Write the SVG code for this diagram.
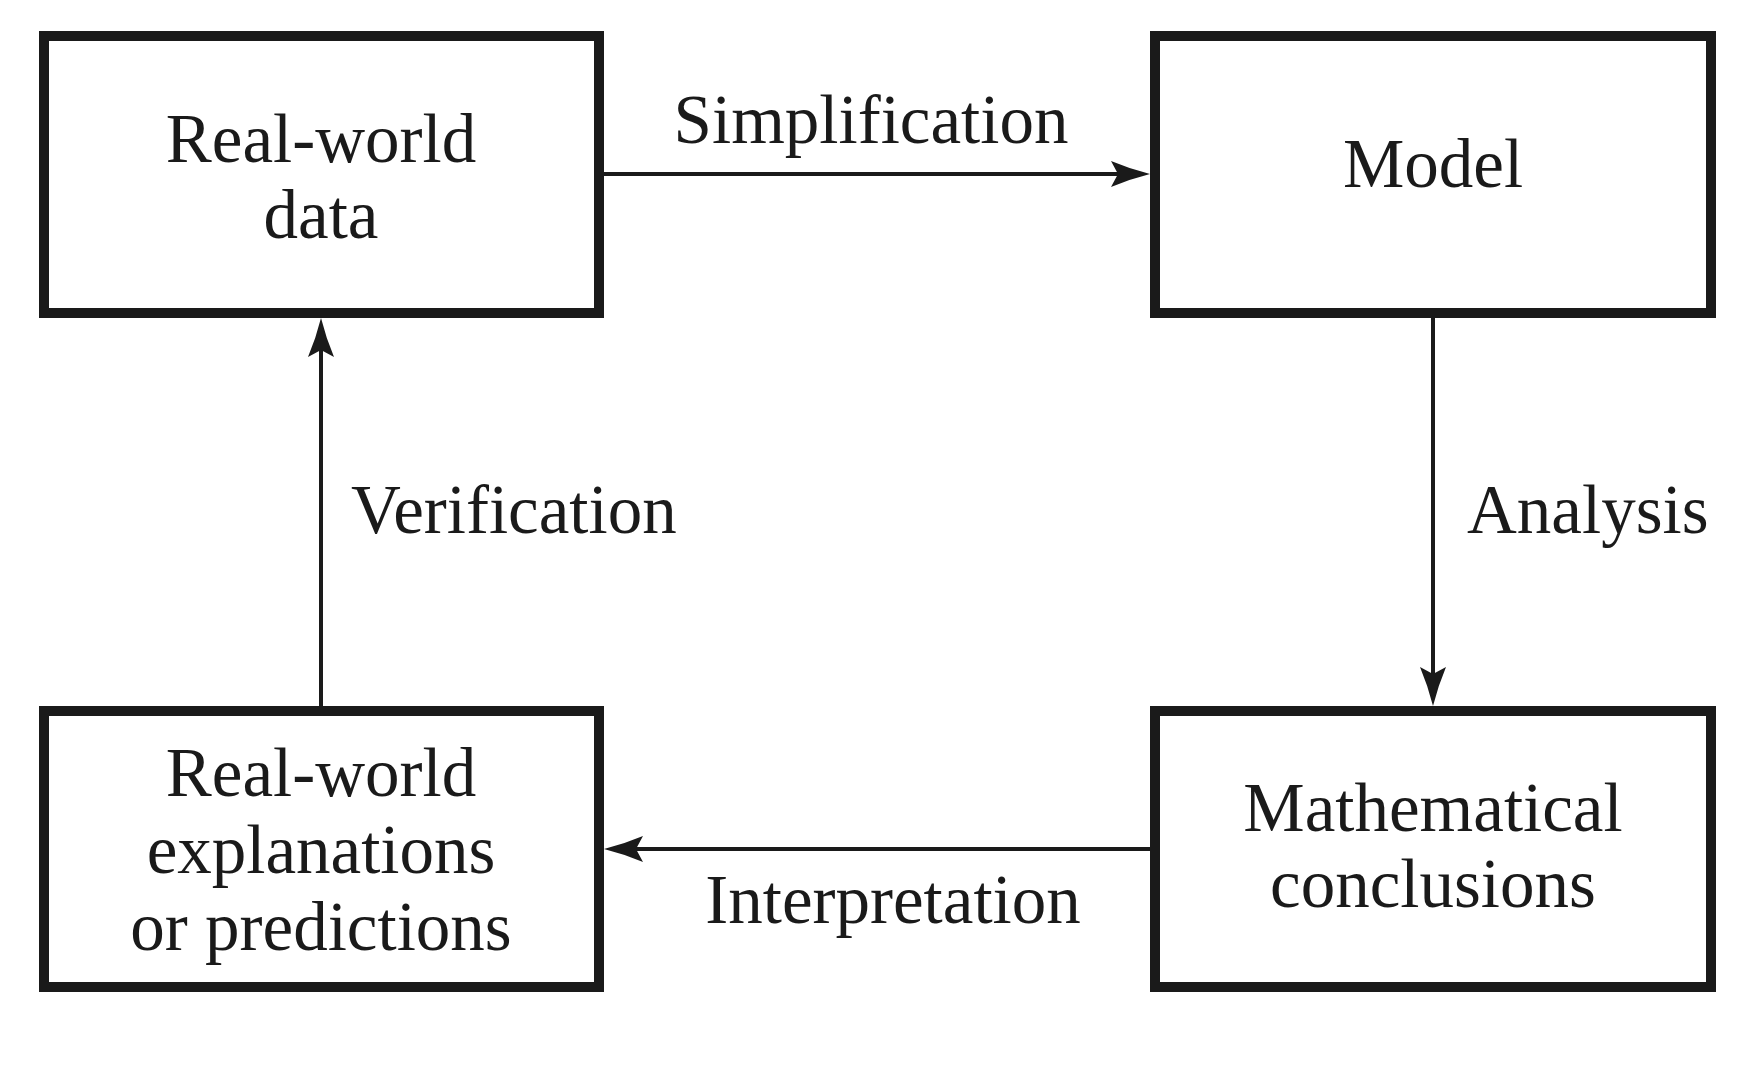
<svg xmlns="http://www.w3.org/2000/svg" width="1752" height="1075" viewBox="0 0 1752 1075">
<defs>
<style>
.box{fill:#fff;stroke:#1a1a1a;stroke-width:10}
.t{font-family:"Liberation Serif","Times New Roman",serif;font-size:69px;fill:#1a1a1a}
.c{text-anchor:middle}
.conn{fill:none;stroke:#1a1a1a;stroke-width:4}
</style>
<marker id="ah" markerUnits="userSpaceOnUse" viewBox="-40 -15 42 30" markerWidth="42" markerHeight="30" refX="-30" refY="0" orient="auto" overflow="visible">
<path d="M0,0 Q-20,-5 -39,-13 L-32,0 L-39,13 Q-20,5 0,0 Z" fill="#1a1a1a"/>
</marker>
</defs>
<rect width="1752" height="1075" fill="#fff"/>
<g id="connectors">
<path class="conn" d="M604,174 H1120" marker-end="url(#ah)"/>
<path class="conn" d="M1433,318 V676" marker-end="url(#ah)"/>
<path class="conn" d="M1150,849 H634" marker-end="url(#ah)"/>
<path class="conn" d="M321,706 V348" marker-end="url(#ah)"/>
<text class="t c" x="871" y="143">Simplification</text>
<text class="t" x="1467" y="533">Analysis</text>
<text class="t c" x="893" y="923">Interpretation</text>
<text class="t" x="351" y="533">Verification</text>
</g>
<g id="real-world-data">
<rect class="box" x="44" y="36" width="555" height="277"/>
<text class="t c" x="321" y="162">Real-world</text>
<text class="t c" x="321" y="238">data</text>
</g>
<g id="model">
<rect class="box" x="1155" y="36" width="556" height="277"/>
<text class="t c" x="1433" y="187">Model</text>
</g>
<g id="mathematical-conclusions">
<rect class="box" x="1155" y="711" width="556" height="276"/>
<text class="t c" x="1433" y="831">Mathematical</text>
<text class="t c" x="1433" y="907">conclusions</text>
</g>
<g id="real-world-explanations">
<rect class="box" x="44" y="711" width="555" height="276"/>
<text class="t c" x="321" y="796">Real-world</text>
<text class="t c" x="321" y="873">explanations</text>
<text class="t c" x="321" y="950">or predictions</text>
</g>
</svg>
